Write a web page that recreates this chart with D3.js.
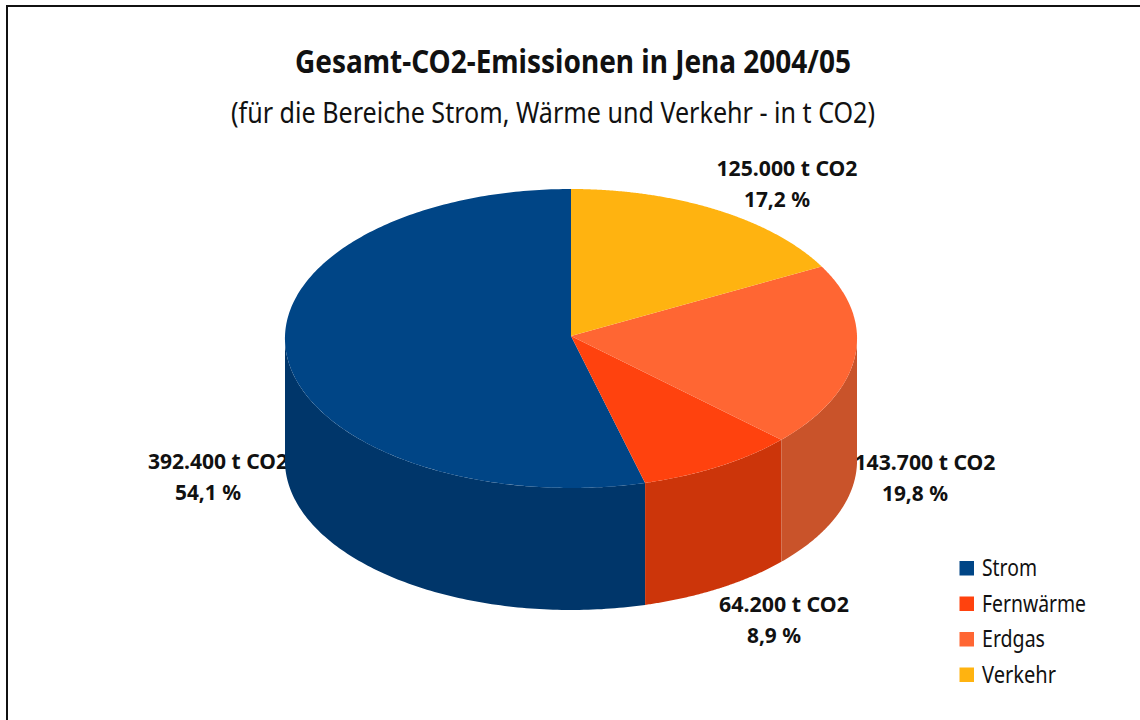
<!DOCTYPE html>
<html><head><meta charset="utf-8">
<script src="https://cdn.jsdelivr.net/npm/d3@7/dist/d3.min.js"></script>
<style>html,body{margin:0;padding:0;background:#fff}svg{display:block}text{font-family:"Liberation Sans Narrow","Noto Sans",sans-serif;fill:#111}</style>
</head><body><svg id="c" width="1140" height="720"></svg>
<script>
const categories = ["Strom","Fernwärme","Erdgas","Verkehr"];
const values = [392400,64200,143700,125000];
const valueLabels = ["392.400 t CO2","64.200 t CO2","143.700 t CO2","125.000 t CO2"];
const percentLabels = ["54,1 %","8,9 %","19,8 %","17,2 %"];
const topColors = ["#004586","#ff420e","#ff6633","#ffb310"];
const wallColors = ["#00366a","#cc350a","#c9532a","#c98d0c"];
const titleText = "Gesamt-CO2-Emissionen in Jena 2004/05";
const subtitleText = "(für die Bereiche Strom, Wärme und Verkehr - in t CO2)";

const svg = d3.select("#c");
const cx=571, cy=336, rx=286, ry=149.45, depth=122, persp=0.0167;

svg.append("rect").attr("x",7).attr("y",6).attr("width",1160).attr("height",800)
  .attr("fill","#fff").attr("stroke","#111").attr("stroke-width",2);

const t = (s,x,y,size,weight,w)=>{const e=svg.append("text").attr("x",x).attr("y",y).attr("text-anchor","middle")
  .attr("font-size",size).attr("font-weight",weight).text(s);
  if(w) e.attr("textLength",w).attr("lengthAdjust","spacingAndGlyphs");return e;};

const labelPos=[[218,469],[784,612],[925,470],[787,176]];
const labelW=[140,130,141,141];
const pctW=[66,54,66,66];
categories.forEach((c,i)=>{
  t(valueLabels[i],labelPos[i][0],labelPos[i][1],22,"bold",labelW[i]);
  t(percentLabels[i],labelPos[i][0]-10,labelPos[i][1]+31,22,"bold",pctW[i]);
});

const pie = d3.pie().sort(null).startAngle(0).endAngle(-2*Math.PI);
const arcs = pie(values);
// slight perspective: the far side of the disc is foreshortened
const px = a => cx + rx*Math.sin(a)/(1+persp*Math.cos(a));
const py = a => cy - ry*Math.cos(a)/(1+persp*Math.cos(a));
const sample = (a,b,n=120) => d3.range(0,n+1).map(k=>a+(b-a)*k/n);

const wallArea = d3.area().x(d=>px(d)).y0(d=>py(d)).y1(d=>py(d)+depth);
const walls = svg.append("g");
arcs.forEach((d,i)=>{
  let a0 = Math.min(d.startAngle,d.endAngle)+2*Math.PI, a1 = Math.max(d.startAngle,d.endAngle)+2*Math.PI;
  if(a0>=2*Math.PI-1e-9){a0-=2*Math.PI;a1-=2*Math.PI;}
  const lo=Math.max(a0,Math.PI/2), hi=Math.min(a1,3*Math.PI/2);
  if(hi<=lo) return;
  walls.append("path").attr("d",wallArea(sample(lo,hi))).attr("fill",wallColors[i]);
});
const line = d3.line();
svg.append("g").selectAll("path").data(arcs).join("path")
  .attr("d",d=>line([[cx,cy],...sample(d.startAngle,d.endAngle,240).map(a=>[px(a),py(a)])])+"Z")
  .attr("fill",(d,i)=>topColors[i]);

t(titleText,573,73,32,"bold",556);
t(subtitleText,553,123,29,"normal",644);

const legendY = d3.scalePoint().domain(categories).range([568,674.5]);
const legend = svg.append("g");
const legW=[55,104,63,74];
categories.forEach((c,i)=>{
  legend.append("rect").attr("x",959.5).attr("y",legendY(c)-7).attr("width",14.5).attr("height",14.5).attr("fill",topColors[i]);
  legend.append("text").attr("x",982).attr("y",legendY(c)+8).attr("font-size",23).attr("textLength",legW[i]).attr("lengthAdjust","spacingAndGlyphs").text(c);
});
</script></body></html>
